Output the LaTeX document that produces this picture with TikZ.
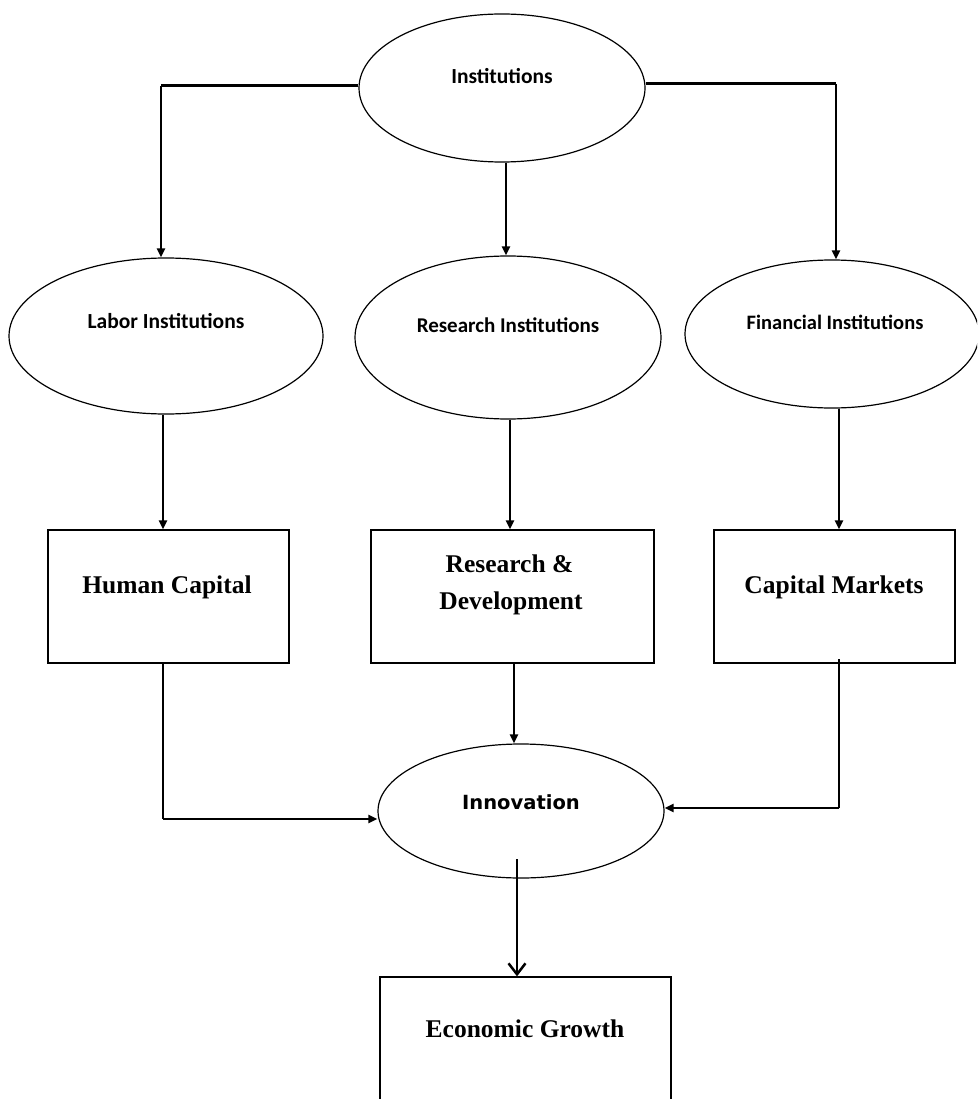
\documentclass[tikz,border=0pt]{standalone}
\usepackage{fontspec}
\usetikzlibrary{shapes.geometric,arrows.meta,calc}
\newfontfamily\calfont{Carlito}
\newfontfamily\tnrfont{Liberation Serif}
\newfontfamily\dvfont{DejaVu Sans}
\begin{document}
\begin{tikzpicture}[x=1pt,y=-1pt,
  oval/.style={draw, ellipse, line width=1.2pt, inner sep=0pt},
  boxnode/.style={draw, rectangle, line width=1.3pt, inner sep=0pt},
  ovaltext/.style={anchor=base, font=\calfont\bfseries\fontsize{21.5}{25}\selectfont, inner sep=0pt},
  boxtext/.style={anchor=base, font=\tnrfont\bfseries\fontsize{25.5}{30}\selectfont, inner sep=0pt},
  conn/.style={line width=2.5pt, -{Triangle[length=9pt,width=8pt]}},
  bar/.style={line width=3pt}
]
\clip (0,0) rectangle (977,1099);
\fill[white] (0,0) rectangle (977,1099);

% ellipses
\node[oval, minimum width=286pt, minimum height=148pt] (inst) at (502,88) {};
\node[oval, minimum width=314pt, minimum height=156pt] (labor) at (166,336) {};
\node[oval, minimum width=306pt, minimum height=163pt] (res) at (508,337.5) {};
\node[oval, minimum width=294pt, minimum height=148pt] (fin) at (832,334) {};
\node[oval, minimum width=286pt, minimum height=134pt] (innov) at (521,811) {};

% boxes
\node[boxnode, minimum width=241pt, minimum height=133pt] (hc) at (168.5,596.5) {};
\node[boxnode, minimum width=283pt, minimum height=133pt] (rd) at (512.5,596.5) {};
\node[boxnode, minimum width=241pt, minimum height=133pt] (cm) at (834.5,596.5) {};
\node[boxnode, minimum width=291pt, minimum height=160pt] (eg) at (525.5,1057) {};

% texts
\node[ovaltext] (instT) at (502,84) {Institutions};
\node[ovaltext] (laborT) at (166,328) {Labor Institutions};
\node[ovaltext, font=\calfont\bfseries\fontsize{21}{25}\selectfont] (resT) at (508,332) {Research Institutions};
\node[ovaltext, font=\calfont\bfseries\fontsize{20.5}{25}\selectfont] (finT) at (835,329) {Financial Institutions};
\node[anchor=base, inner sep=0pt, font=\dvfont\bfseries\fontsize{19.5}{24}\selectfont] (innovT) at (521,809) {Innovation};
\node[boxtext] (hcT) at (167,593) {Human Capital};
\node[boxtext] (rdT1) at (509.5,572) {Research \&};
\node[boxtext] (rdT2) at (511,609) {Development};
\node[boxtext] (cmT) at (834,593) {Capital Markets};
\node[boxtext] (egT) at (525,1037) {Economic Growth};

% connectors from Institutions
\coordinate (cl) at (161,86);
\coordinate (cr) at (836,84);
\draw[bar] (inst.west |- cl) -- (cl);
\draw[conn] (cl) -- (cl |- labor.north);
\draw[bar] (inst.east |- cr) -- (cr);
\draw[conn] (cr) -- (cr |- fin.north);
\coordinate (mx) at (506,0);
\draw[conn] (mx |- inst.south) -- (mx |- res.north);

% ellipses to boxes
\coordinate (lx) at (163,0);
\draw[conn] (lx |- labor.south) -- (lx |- hc.north);
\coordinate (rx) at (510,0);
\draw[conn] (rx |- res.south) -- (rx |- rd.north);
\coordinate (fx) at (839,0);
\draw[conn] (fx |- fin.south) -- (fx |- cm.north);

% boxes to innovation
\coordinate (hx) at (163,819);
\draw[line width=2.5pt] (lx |- hc.south) -- (hx);
\draw[conn] (hx) -- (hx -| innov.west);
\coordinate (rdx) at (514,0);
\draw[conn] (rdx |- rd.south) -- (rdx |- innov.north);
\coordinate (cx) at (839,808);
\draw[line width=2.5pt] (839,659) -- (cx);
\draw[conn] (cx) -- (innov.east |- cx);

% innovation to growth
\coordinate (ix) at (517,859);
\draw[line width=2.5pt, -{Straight Barb[length=11pt,width=17pt,line width=2.5pt]}] (ix) -- (ix |- eg.north);
\end{tikzpicture}
\end{document}
